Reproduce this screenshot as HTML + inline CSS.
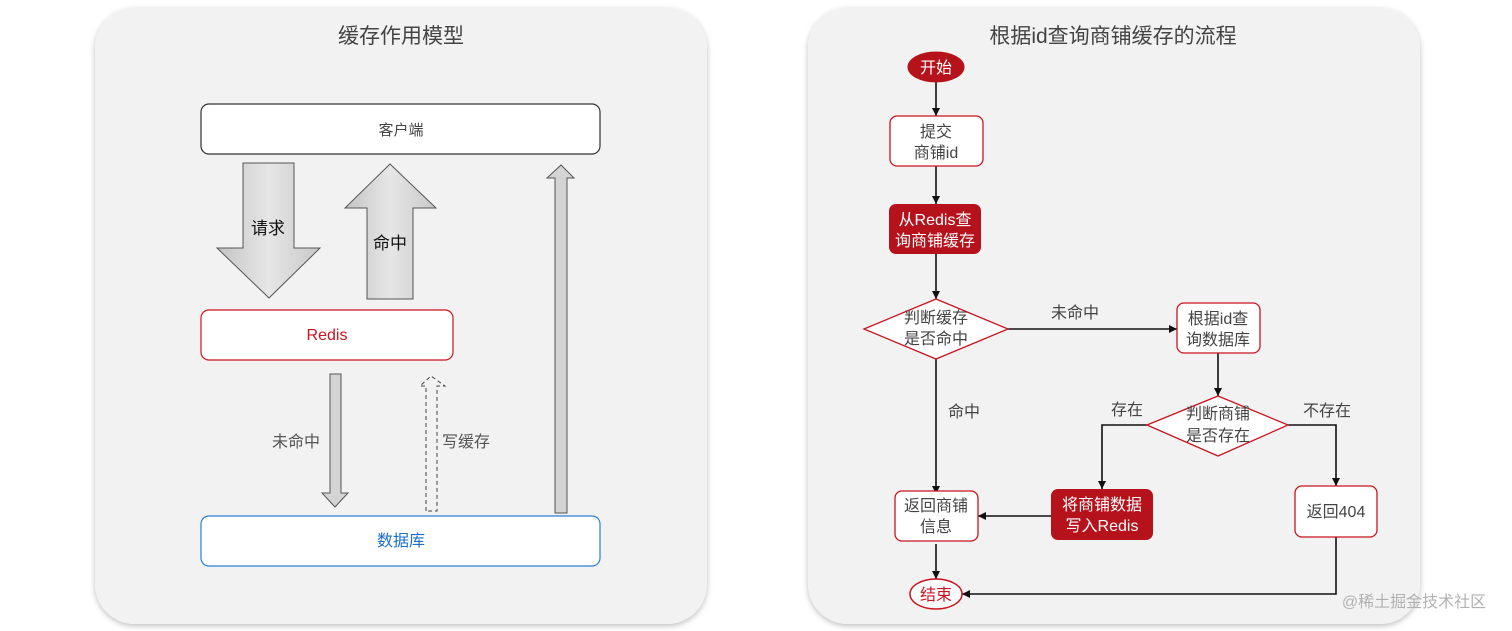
<!DOCTYPE html>
<html><head><meta charset="utf-8"><style>
html,body{margin:0;padding:0;background:#fff;width:1512px;height:631px;overflow:hidden}
svg{display:block}
text{font-family:"Liberation Sans","Noto Sans CJK SC",sans-serif}
</style></head><body>
<svg width="1512" height="631" viewBox="0 0 1512 631" xmlns="http://www.w3.org/2000/svg">
<defs>
<filter id="sh" x="-5%" y="-5%" width="110%" height="110%"><feDropShadow dx="0" dy="2" stdDeviation="3" flood-color="#000" flood-opacity="0.25"/></filter>
<linearGradient id="g" x1="0" x2="1" y1="0" y2="0"><stop offset="0" stop-color="#c4c4c4"/><stop offset="0.5" stop-color="#e6e6e6"/><stop offset="1" stop-color="#c8c8c8"/></linearGradient>
<linearGradient id="gv" x1="0" x2="0" y1="0" y2="1"><stop offset="0" stop-color="#b8b8b8"/><stop offset="1" stop-color="#e8e8e8"/></linearGradient>
<marker id="ar" viewBox="0 0 10 10" refX="10" refY="5" markerWidth="8" markerHeight="8" orient="auto" markerUnits="userSpaceOnUse"><path d="M0,0 L10,5 L0,10 z" fill="#111"/></marker>
</defs>
<!-- left panel -->
<rect x="95" y="8" width="612" height="616" rx="40" fill="#f2f2f2" filter="url(#sh)"/>
<text x="401" y="43" font-size="21" fill="#444" text-anchor="middle">缓存作用模型</text>
<rect x="201" y="104" width="399" height="50" rx="8" fill="#fff" stroke="#333" stroke-width="1.2"/>
<text x="401" y="135" font-size="15" fill="#444" text-anchor="middle">客户端</text>
<rect x="201" y="310" width="252" height="50" rx="8" fill="#fff" stroke="#c8141e" stroke-width="1.2"/>
<text x="327" y="340" font-size="16" fill="#c8141e" text-anchor="middle">Redis</text>
<rect x="201" y="516" width="399" height="50" rx="8" fill="#fff" stroke="#2b7fd6" stroke-width="1.2"/>
<text x="401" y="546" font-size="16" fill="#1b6fc6" text-anchor="middle">数据库</text>
<path d="M243,163 L294,163 L294,248 L320,248 L269,298 L217,248 L243,248 Z" fill="url(#g)" stroke="#555" stroke-width="1"/>
<text x="268" y="234" font-size="17" fill="#111" text-anchor="middle">请求</text>
<path d="M390,164 L436,208 L413,208 L413,299 L367,299 L367,208 L345,208 Z" fill="url(#g)" stroke="#555" stroke-width="1"/>
<text x="390" y="249" font-size="17" fill="#111" text-anchor="middle">命中</text>
<path d="M330,374 L341,374 L341,493 L348,493 L335,507 L322,493 L330,493 Z" fill="#d4d4d4" stroke="#555" stroke-width="1"/>
<text x="296" y="447" font-size="16" fill="#555" text-anchor="middle">未命中</text>
<path d="M426,511 L426,386 L420,386 L431,376 L445,386 L437,386 L437,511 Z" fill="none" stroke="#444" stroke-width="1" stroke-dasharray="4,3"/>
<text x="466" y="447" font-size="16" fill="#555" text-anchor="middle">写缓存</text>
<path d="M555,513 L555,178 L547,178 L561,165 L574,178 L567,178 L567,513 Z" fill="#d4d4d4" stroke="#555" stroke-width="1"/>
<!-- right panel -->
<rect x="808" y="8" width="612" height="616" rx="40" fill="#f2f2f2" filter="url(#sh)"/>
<text x="1113" y="43" font-size="21" fill="#444" text-anchor="middle">根据id查询商铺缓存的流程</text>
<g stroke="#111" stroke-width="1.6" fill="none">
<line x1="936" y1="82" x2="936" y2="116" marker-end="url(#ar)"/>
<line x1="936" y1="166" x2="936" y2="204" marker-end="url(#ar)"/>
<line x1="936" y1="254" x2="936" y2="299" marker-end="url(#ar)"/>
<line x1="936" y1="359" x2="936" y2="494" marker-end="url(#ar)"/>
<line x1="1008" y1="329" x2="1177" y2="329" marker-end="url(#ar)"/>
<line x1="1218" y1="353" x2="1218" y2="396" marker-end="url(#ar)"/>
<polyline points="1147,425 1102,425 1102,489" marker-end="url(#ar)"/>
<polyline points="1288,425 1336,425 1336,486" marker-end="url(#ar)"/>
<line x1="1051" y1="516" x2="978" y2="516" marker-end="url(#ar)"/>
<line x1="936" y1="544" x2="936" y2="579" marker-end="url(#ar)"/>
<polyline points="1336,537 1336,594 962,594" marker-end="url(#ar)"/>
</g>
<ellipse cx="936" cy="67" rx="28" ry="15" fill="#b5121b" stroke="#b5121b"/>
<text x="936" y="73" font-size="16" fill="#fff" text-anchor="middle">开始</text>
<rect x="890" y="116" width="93" height="50" rx="7" fill="#fff" stroke="#c8141e" stroke-width="1.3"/>
<text x="936" y="137" font-size="16" fill="#444" text-anchor="middle">提交</text>
<text x="936" y="158" font-size="16" fill="#444" text-anchor="middle">商铺id</text>
<rect x="889" y="204" width="92" height="50" rx="7" fill="#b5121b"/>
<text x="935" y="225" font-size="16" fill="#fff" text-anchor="middle">从Redis查</text>
<text x="935" y="246" font-size="16" fill="#fff" text-anchor="middle">询商铺缓存</text>
<polygon points="864,329 936,299 1008,329 936,359" fill="#fff" stroke="#c8141e" stroke-width="1.3"/>
<text x="936" y="323" font-size="16" fill="#444" text-anchor="middle">判断缓存</text>
<text x="936" y="344" font-size="16" fill="#444" text-anchor="middle">是否命中</text>
<text x="1075" y="318" font-size="16" fill="#444" text-anchor="middle">未命中</text>
<text x="964" y="417" font-size="16" fill="#444" text-anchor="middle">命中</text>
<rect x="1177" y="303" width="83" height="50" rx="7" fill="#fff" stroke="#c8141e" stroke-width="1.3"/>
<text x="1218" y="324" font-size="16" fill="#444" text-anchor="middle">根据id查</text>
<text x="1218" y="345" font-size="16" fill="#444" text-anchor="middle">询数据库</text>
<polygon points="1147,425 1218,396 1288,425 1218,456" fill="#fff" stroke="#c8141e" stroke-width="1.3"/>
<text x="1218" y="419" font-size="16" fill="#444" text-anchor="middle">判断商铺</text>
<text x="1218" y="441" font-size="16" fill="#444" text-anchor="middle">是否存在</text>
<text x="1127" y="415" font-size="16" fill="#444" text-anchor="middle">存在</text>
<text x="1327" y="416" font-size="16" fill="#444" text-anchor="middle">不存在</text>
<rect x="895" y="491" width="83" height="50" rx="7" fill="#fff" stroke="#c8141e" stroke-width="1.3"/>
<text x="936" y="511" font-size="16" fill="#444" text-anchor="middle">返回商铺</text>
<text x="936" y="532" font-size="16" fill="#444" text-anchor="middle">信息</text>
<rect x="1051" y="489" width="102" height="51" rx="7" fill="#b5121b"/>
<text x="1102" y="510" font-size="16" fill="#fff" text-anchor="middle">将商铺数据</text>
<text x="1102" y="531" font-size="16" fill="#fff" text-anchor="middle">写入Redis</text>
<rect x="1295" y="486" width="82" height="51" rx="7" fill="#fff" stroke="#c8141e" stroke-width="1.3"/>
<text x="1336" y="517" font-size="16" fill="#444" text-anchor="middle">返回404</text>
<ellipse cx="936" cy="594" rx="26" ry="15" fill="#fff" stroke="#c8141e" stroke-width="1.5"/>
<text x="936" y="600" font-size="16" fill="#c8141e" text-anchor="middle">结束</text>
<text x="1414" y="607" font-size="16" fill="#aaa" text-anchor="middle" opacity="0.9">@稀土掘金技术社区</text>
</svg>
</body></html>
